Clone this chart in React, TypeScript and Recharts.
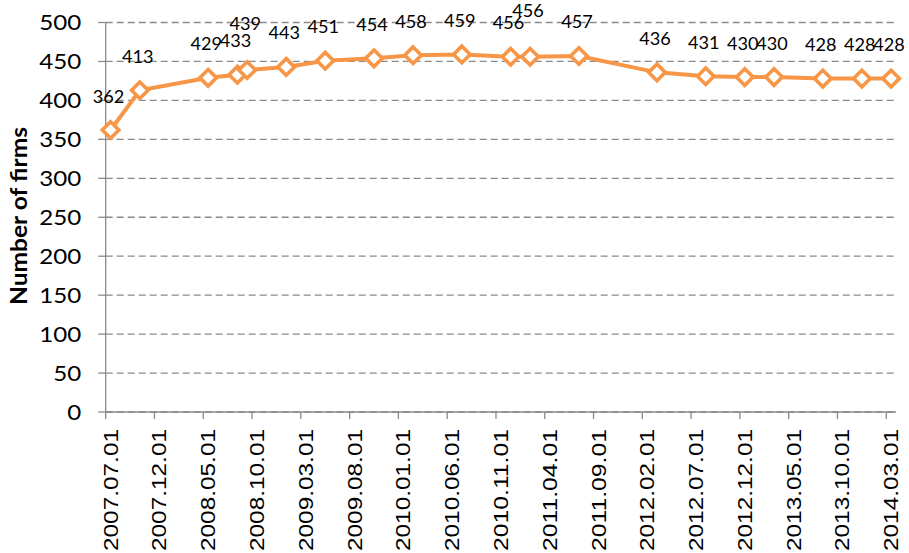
import { LineChart, Line, XAxis, YAxis, CartesianGrid, LabelList } from "recharts";

const DATES = [
  "2007.07", "2007.10", "2008.05", "2008.08", "2008.09", "2009.01", "2009.05",
  "2009.10", "2010.02", "2010.07", "2010.12", "2011.02", "2011.07", "2012.03",
  "2012.08", "2012.12", "2013.03", "2013.08", "2013.12", "2014.03",
];
const FIRMS = [
  362, 413, 429, 433, 439, 443, 451, 454, 458, 459, 456, 456, 457, 436,
  431, 430, 430, 428, 428, 428,
];
const X_TICKS = [
  "2007.07.01", "2007.12.01", "2008.05.01", "2008.10.01", "2009.03.01",
  "2009.08.01", "2010.01.01", "2010.06.01", "2010.11.01", "2011.04.01",
  "2011.09.01", "2012.02.01", "2012.07.01", "2012.12.01", "2013.05.01",
  "2013.10.01", "2014.03.01",
];
const Y_TICKS = [0, 50, 100, 150, 200, 250, 300, 350, 400, 450, 500];

const ORANGE = "#F79646";
const GREY = "#8a8a8a";
const CAL = "Lato, 'Open Sans', sans-serif";

// months since 2007.07
const monthIndex = (s: string) => {
  const [y, m] = s.split(".").map(Number);
  return (y - 2007) * 12 + (m - 7);
};

// points sit in the middle of their month slot
const data = DATES.map((d, i) => ({ m: monthIndex(d) + 0.5, firms: FIRMS[i] }));
const xTickValues = X_TICKS.map(monthIndex);

const XTick = (props: any) => {
  const { x, y, payload } = props;
  const label = X_TICKS[xTickValues.indexOf(payload.value)] ?? "";
  return (
    <text
      transform={`translate(${x + 12},${y}) rotate(-90)`}
      textAnchor="end"
      fontFamily="'Liberation Sans', Arial, sans-serif"
      fontSize={20.5}
      textLength={122}
      lengthAdjust="spacingAndGlyphs"
      fill="#000"
    >
      {label}
    </text>
  );
};

const YTick = (props: any) => {
  const { x, y, payload } = props;
  const s = String(payload.value);
  return (
    <text
      x={x}
      y={y}
      dy={7.5}
      textAnchor="end"
      fontFamily={CAL}
      fontSize={21}
      textLength={s.length * 14}
      lengthAdjust="spacingAndGlyphs"
      fill="#000"
    >
      {s}
    </text>
  );
};

const Diamond = (props: any) => {
  const { cx, cy, index } = props;
  const r = 8.3;
  return (
    <path
      key={index}
      d={`M${cx},${cy - r}L${cx + r},${cy}L${cx},${cy + r}L${cx - r},${cy}Z`}
      fill="#fff"
      stroke={ORANGE}
      strokeWidth={3.6}
    />
  );
};

const PointLabel = (props: any) => {
  const { x, y, value, index } = props;
  // lift the label when the previous point is too close
  const crowded = index > 0 && data[index].m - data[index - 1].m <= 2;
  return (
    <text
      x={x - 2}
      y={y - 27.5 - (crowded ? 12.5 : 0)}
      textAnchor="middle"
      fontFamily={CAL}
      fontSize={17}
      textLength={31.5}
      lengthAdjust="spacingAndGlyphs"
      fill="#000"
    >
      {value}
    </text>
  );
};

export default function App() {
  return (
    <div style={{ position: "absolute", left: 0, top: 0, width: 909, height: 553, background: "#fff" }}>
      <LineChart width={909} height={553} data={data} margin={{ top: 22.5, right: 13, bottom: 0, left: 0 }}>
        <CartesianGrid vertical={false} stroke={GREY} strokeWidth={1.3} strokeDasharray="7 4" />
        <XAxis
          type="number"
          dataKey="m"
          domain={[0, 81]}
          ticks={xTickValues}
          interval={0}
          height={141}
          axisLine={{ stroke: GREY, strokeWidth: 1.3 }}
          tickLine={{ stroke: GREY, strokeWidth: 1.3 }}
          tickSize={7}
          tickMargin={10}
          tick={<XTick />}
        />
        <YAxis
          type="number"
          domain={[0, 500]}
          ticks={Y_TICKS}
          interval={0}
          width={105.7}
          axisLine={{ stroke: GREY, strokeWidth: 1.3 }}
          tickLine={{ stroke: GREY, strokeWidth: 1.3 }}
          tickSize={7.5}
          tickMargin={17}
          tick={<YTick />}
        />
        <Line
          type="linear"
          dataKey="firms"
          stroke={ORANGE}
          strokeWidth={4}
          dot={Diamond}
          activeDot={false}
          isAnimationActive={false}
        >
          <LabelList dataKey="firms" content={PointLabel} />
        </Line>
        <text
          transform="translate(26.5,216) rotate(-90)"
          textAnchor="middle"
          fontFamily={CAL}
          fontWeight={700}
          fontSize={22}
          textLength={178}
          lengthAdjust="spacingAndGlyphs"
          fill="#000"
        >
          Number of firms
        </text>
      </LineChart>
    </div>
  );
}
